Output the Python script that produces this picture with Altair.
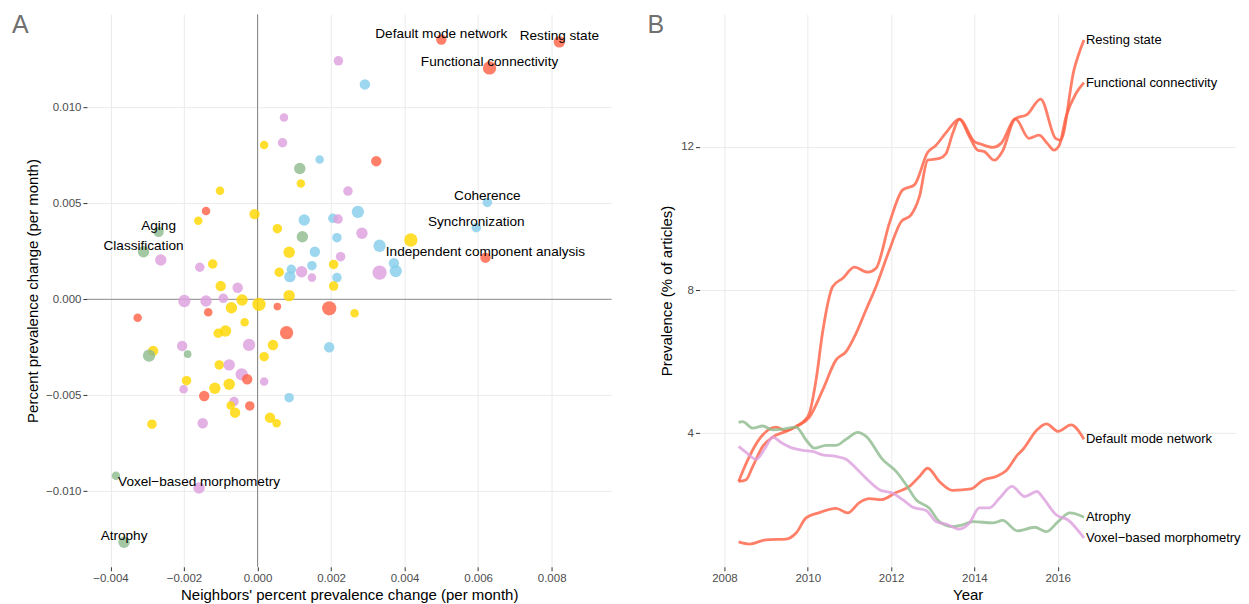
import altair as alt
import pandas as pd

# ---------------- Panel A data ----------------
point_x = [0.00500, 0.00821, 0.00631, 0.00625, 0.00595, 0.00620, -0.00269, -0.00310, -0.00159, -0.00363,
           0.00072, 0.00018, 0.00068, 0.00115, 0.00118, 0.00169, -0.00102, -0.00140, -0.00161, -0.00008,
           0.00054, 0.00127, 0.00122, 0.00086, 0.00156, -0.00263, -0.00157, -0.00122, 0.00148, 0.00059,
           0.00092, 0.00088, 0.00120, 0.00148, -0.00100, -0.00054, 0.00086, 0.00220, 0.00292, 0.00323,
           0.00246, 0.00273, 0.00205, 0.00219, 0.00284, 0.00417, 0.00216, 0.00332, 0.00226, 0.00371,
           0.00376, 0.00332, 0.00207, 0.00216, 0.00207, -0.00199, -0.00140, -0.00093, -0.00071, -0.00042,
           0.00004, -0.00134, -0.00326, -0.00035, -0.00107, -0.00087, 0.00079, -0.00205, -0.00023, 0.00042,
           -0.00284, -0.00295, -0.00190, 0.00018, -0.00104, -0.00077, -0.00043, -0.00028, -0.00193, 0.00018,
           -0.00201, -0.00116, -0.00077, -0.00145, 0.00086, -0.00064, -0.00073, -0.00061, -0.00021, 0.00034,
           0.00052, -0.00287, -0.00149, -0.00385, 0.00195, 0.00264, 0.00195, 0.00054]
point_y = [0.01354, 0.01342, 0.01206, 0.00505, 0.00373, 0.00217, 0.00352, 0.00248, -0.00984, -0.01266,
           0.00948, 0.00804, 0.00816, 0.00682, 0.00604, 0.00729, 0.00566, 0.00460, 0.00409, 0.00444,
           0.00368, 0.00413, 0.00326, 0.00245, 0.00248, 0.00205, 0.00167, 0.00184, 0.00175, 0.00141,
           0.00156, 0.00118, 0.00144, 0.00113, 0.00069, 0.00060, 0.00019, 0.01243, 0.01120, 0.00720,
           0.00564, 0.00456, 0.00422, 0.00418, 0.00344, 0.00309, 0.00321, 0.00279, 0.00222, 0.00188,
           0.00147, 0.00139, 0.00182, 0.00113, 0.00069, -0.00009, -0.00009, 0.00005, -0.00044, -0.00004,
           -0.00026, -0.00068, -0.00096, -0.00120, -0.00177, -0.00165, -0.00174, -0.00243, -0.00238, -0.00238,
           -0.00269, -0.00294, -0.00286, -0.00299, -0.00342, -0.00342, -0.00391, -0.00417, -0.00424, -0.00429,
           -0.00469, -0.00464, -0.00443, -0.00504, -0.00513, -0.00533, -0.00554, -0.00591, -0.00556, -0.00617,
           -0.00646, -0.00651, -0.00646, -0.00920, -0.00047, -0.00073, -0.00250, -0.00038]
point_group = ["C1", "C1", "C1", "C2", "C2", "C1", "C5", "C5", "C3", "C5",
               "C3", "C4", "C3", "C5", "C4", "C2", "C4", "C1", "C4", "C4",
               "C4", "C2", "C5", "C4", "C2", "C3", "C3", "C4", "C2", "C4",
               "C2", "C2", "C3", "C3", "C4", "C3", "C4", "C3", "C2", "C1",
               "C3", "C2", "C2", "C3", "C3", "C4", "C2", "C2", "C3", "C2",
               "C2", "C3", "C4", "C2", "C4", "C3", "C3", "C3", "C4", "C4",
               "C4", "C1", "C1", "C4", "C4", "C4", "C1", "C3", "C3", "C4",
               "C4", "C5", "C5", "C4", "C4", "C3", "C3", "C1", "C4", "C3",
               "C3", "C4", "C4", "C1", "C2", "C3", "C4", "C4", "C1", "C4",
               "C4", "C4", "C3", "C5", "C1", "C4", "C2", "C1"]
point_articles = [30, 36, 49, 25, 25, 30, 30, 36, 36, 36,
                  20, 20, 25, 36, 20, 20, 20, 20, 20, 30,
                  25, 36, 36, 36, 30, 36, 25, 25, 25, 25,
                  25, 36, 36, 20, 30, 30, 36, 25, 30, 30,
                  25, 42, 25, 25, 36, 49, 25, 42, 25, 30,
                  42, 56, 25, 25, 25, 42, 36, 25, 36, 36,
                  49, 20, 20, 20, 25, 36, 49, 30, 42, 30,
                  30, 42, 16, 25, 25, 36, 42, 30, 25, 20,
                  20, 36, 36, 30, 25, 25, 20, 30, 25, 30,
                  20, 25, 30, 20, 56, 20, 30, 16]
point_label = ["Default mode network", "Resting state", "Functional connectivity", "Coherence",
               "Synchronization", "Independent component analysis", "Aging", "Classification",
               "Voxel\u2212based morphometry", "Atrophy"] + [""] * 88

group_names = ["C1", "C2", "C3", "C4", "C5"]
group_colors = ["#FF6347", "#87CEEB", "#DDA0DD", "#FFD700", "#8FBC8F"]

x_ticks = [-0.004, -0.002, 0.0, 0.002, 0.004, 0.006, 0.008]
y_ticks = [-0.010, -0.005, 0.0, 0.005, 0.010]

# ---------------- Panel B data ----------------
rs_year = [2008.34, 2008.60, 2008.80, 2009.24, 2009.48, 2009.72, 2009.92, 2010.04, 2010.20, 2010.36,
           2010.60, 2010.84, 2011.12, 2011.44, 2011.64, 2011.96, 2012.28, 2012.56, 2012.88, 2013.08,
           2013.32, 2013.64, 2014.00, 2014.16, 2014.44, 2014.64, 2014.96, 2015.27, 2015.59, 2015.95,
           2016.07, 2016.39, 2016.63]
rs_val = [2.65, 3.35, 3.77, 4.17, 4.07, 4.19, 4.35, 4.56, 5.49, 6.85,
          8.10, 8.33, 8.64, 8.50, 8.61, 9.87, 10.80, 10.94, 11.85, 12.05,
          12.40, 12.78, 12.15, 12.08, 11.99, 12.10, 12.78, 12.91, 13.34, 12.24,
          12.19, 14.15, 14.99]
fc_year = [2008.34, 2008.52, 2008.68, 2008.92, 2009.16, 2009.48, 2009.80, 2010.04, 2010.36, 2010.68,
           2010.92, 2011.16, 2011.40, 2011.64, 2011.96, 2012.24, 2012.48, 2012.68, 2012.88, 2013.16,
           2013.32, 2013.48, 2013.64, 2013.88, 2014.08, 2014.24, 2014.48, 2014.67, 2014.99, 2015.31,
           2015.55, 2015.75, 2015.91, 2016.04, 2016.20, 2016.44, 2016.63]
fc_val = [2.65, 2.70, 3.07, 3.63, 3.89, 4.05, 4.23, 4.45, 5.21, 6.05,
          6.28, 6.79, 7.45, 8.10, 9.12, 9.91, 10.10, 10.61, 11.63, 11.68,
          11.82, 12.38, 12.78, 12.29, 11.91, 11.87, 11.63, 11.87, 12.78, 12.24,
          12.33, 12.10, 11.91, 12.05, 12.85, 13.50, 13.80]
dmn_year = [2008.34, 2008.60, 2009.00, 2009.48, 2009.72, 2009.96, 2010.28, 2010.68, 2010.96, 2011.24,
            2011.48, 2011.76, 2012.12, 2012.44, 2012.68, 2012.88, 2013.16, 2013.48, 2013.92, 2014.20,
            2014.52, 2014.76, 2015.04, 2015.17, 2015.50, 2015.73, 2016.01, 2016.32, 2016.63]
dmn_val = [0.96, 0.90, 1.02, 1.04, 1.21, 1.63, 1.78, 1.90, 1.77, 2.06,
           2.17, 2.14, 2.34, 2.51, 2.79, 3.02, 2.65, 2.40, 2.44, 2.68,
           2.79, 2.95, 3.40, 3.55, 4.09, 4.26, 4.05, 4.23, 3.83]
atr_year = [2008.34, 2008.44, 2008.68, 2008.92, 2009.16, 2009.40, 2009.72, 2009.96, 2010.16, 2010.44,
            2010.68, 2010.92, 2011.20, 2011.40, 2011.80, 2012.12, 2012.36, 2012.60, 2012.92, 2013.16,
            2013.48, 2013.72, 2013.96, 2014.44, 2014.68, 2015.03, 2015.45, 2015.73, 2016.01, 2016.29,
            2016.63]
atr_val = [4.30, 4.32, 4.14, 4.20, 4.09, 4.11, 4.17, 3.81, 3.58, 3.66,
           3.66, 3.83, 4.02, 3.91, 3.26, 2.93, 2.56, 2.14, 1.90, 1.53,
           1.39, 1.44, 1.53, 1.49, 1.56, 1.27, 1.37, 1.25, 1.53, 1.77,
           1.65]
vbm_year = [2008.34, 2008.52, 2008.76, 2008.96, 2009.16, 2009.36, 2009.64, 2009.88, 2010.12, 2010.36,
            2010.68, 2010.92, 2011.16, 2011.40, 2011.72, 2012.04, 2012.28, 2012.52, 2012.84, 2013.08,
            2013.36, 2013.64, 2013.88, 2014.12, 2014.36, 2014.60, 2014.90, 2015.21, 2015.50, 2015.68,
            2015.96, 2016.24, 2016.63]
vbm_val = [3.63, 3.46, 3.27, 3.55, 3.89, 3.74, 3.58, 3.52, 3.49, 3.39,
           3.35, 3.27, 3.02, 2.74, 2.42, 2.32, 2.14, 1.93, 1.84, 1.53,
           1.44, 1.32, 1.49, 1.91, 1.91, 2.18, 2.51, 2.23, 2.37, 2.14,
           1.72, 1.58, 1.07]

series_names = ["Resting state", "Functional connectivity", "Default mode network",
                "Atrophy", "Voxel\u2212based morphometry"]
series_colors = ["#FF6347", "#FF6347", "#FF6347", "#8FBC8F", "#DDA0DD"]
year_ticks = [2008, 2010, 2012, 2014, 2016]
prev_ticks = [4, 8, 12]

FONT = "Liberation Sans"

# ---------------- Panel A ----------------
df_pts = pd.DataFrame({"x": point_x, "y": point_y, "group": point_group,
                       "articles": point_articles, "label": point_label})
df_lab = df_pts[df_pts["label"] != ""]

xs = alt.Scale(domain=[-0.004639, 0.009628], nice=False, zero=False)
ys = alt.Scale(domain=[-0.013943, 0.014859], nice=False, zero=False)

xA = alt.X("x:Q", scale=xs, axis=alt.Axis(values=x_ticks, format=".3f", titlePadding=3,
                                            title="Neighbors' percent prevalence change (per month)"))
yA = alt.Y("y:Q", scale=ys, axis=alt.Axis(values=y_ticks, format=".3f", titlePadding=5,
                                            title="Percent prevalence change (per month)"))

zero_v = alt.Chart(pd.DataFrame({"x": [0.0]})).mark_rule(color="#8C8C8C", strokeWidth=1).encode(
    x=alt.X("x:Q", scale=xs))
zero_h = alt.Chart(pd.DataFrame({"y": [0.0]})).mark_rule(color="#8C8C8C", strokeWidth=1).encode(
    y=alt.Y("y:Q", scale=ys))

pts = alt.Chart(df_pts).mark_circle(opacity=0.82, stroke=None).encode(
    x=xA, y=yA,
    color=alt.Color("group:N", scale=alt.Scale(domain=group_names, range=group_colors), legend=None),
    size=alt.Size("articles:Q", scale=alt.Scale(domain=[0, 64], range=[0, 232], zero=True), legend=None),
)
labs = alt.Chart(df_lab).mark_text(font=FONT, fontSize=13.6, color="#000000", dy=-6,
                                   align="center", baseline="middle").encode(
    x=alt.X("x:Q", scale=xs), y=alt.Y("y:Q", scale=ys), text="label:N")
tagA = alt.Chart(pd.DataFrame({"t": ["A"]})).mark_text(
    font=FONT, fontSize=25, color="#707070", align="left", baseline="alphabetic").encode(
    text="t:N", x=alt.value(-75), y=alt.value(19))

left = alt.layer(zero_v, zero_h, pts, labs, tagA).properties(width=525, height=553)

# ---------------- Panel B ----------------
rows = []
for name, yrs, vals in [(series_names[0], rs_year, rs_val), (series_names[1], fc_year, fc_val),
                        (series_names[2], dmn_year, dmn_val), (series_names[3], atr_year, atr_val),
                        (series_names[4], vbm_year, vbm_val)]:
    for a, b in zip(yrs, vals):
        rows.append({"series": name, "year": a, "value": b})
df_lines = pd.DataFrame(rows)
df_end = df_lines.groupby("series", as_index=False).last()

xbs = alt.Scale(domain=[2007.40, 2020.28], nice=False, zero=False)
ybs = alt.Scale(domain=[0.265, 15.71], nice=False, zero=False)

lines = alt.Chart(df_lines).mark_line(strokeWidth=2.8, opacity=0.82, interpolate="monotone").encode(
    x=alt.X("year:Q", scale=xbs, axis=alt.Axis(values=year_ticks, format="d", title="Year", titlePadding=3)),
    y=alt.Y("value:Q", scale=ybs, axis=alt.Axis(values=prev_ticks, format="d", titlePadding=6,
                                                title="Prevalence (% of articles)")),
    color=alt.Color("series:N", scale=alt.Scale(domain=series_names, range=series_colors), legend=None),
    detail="series:N",
)
end_labs = alt.Chart(df_end).mark_text(font=FONT, fontSize=13, color="#000000", dx=2,
                                       align="left", baseline="middle").encode(
    x=alt.X("year:Q", scale=xbs), y=alt.Y("value:Q", scale=ybs), text="series:N")
tagB = alt.Chart(pd.DataFrame({"t": ["B"]})).mark_text(
    font=FONT, fontSize=25, color="#707070", align="left", baseline="alphabetic").encode(
    text="t:N", x=alt.value(-52), y=alt.value(19))

right = alt.layer(lines, end_labs, tagB).properties(width=537, height=553)

chart = alt.hconcat(left, right, spacing=88, bounds="flush",
                    padding={"left": 4, "top": 5, "right": 0, "bottom": 0}).resolve_scale(
    color="independent", size="independent"
).configure_view(
    stroke=None
).configure_axis(
    grid=True, gridColor="#EBEBEB", gridWidth=1, domain=False,
    tickColor="#333333", tickSize=4, labelPadding=2,
    labelColor="#4D4D4D", labelFontSize=11.5, labelFont=FONT,
    titleFont=FONT, titleFontSize=15, titleFontWeight="normal", titleColor="#000000",
)

chart.save("out.html", embed_options={"renderer": "svg", "actions": False})
